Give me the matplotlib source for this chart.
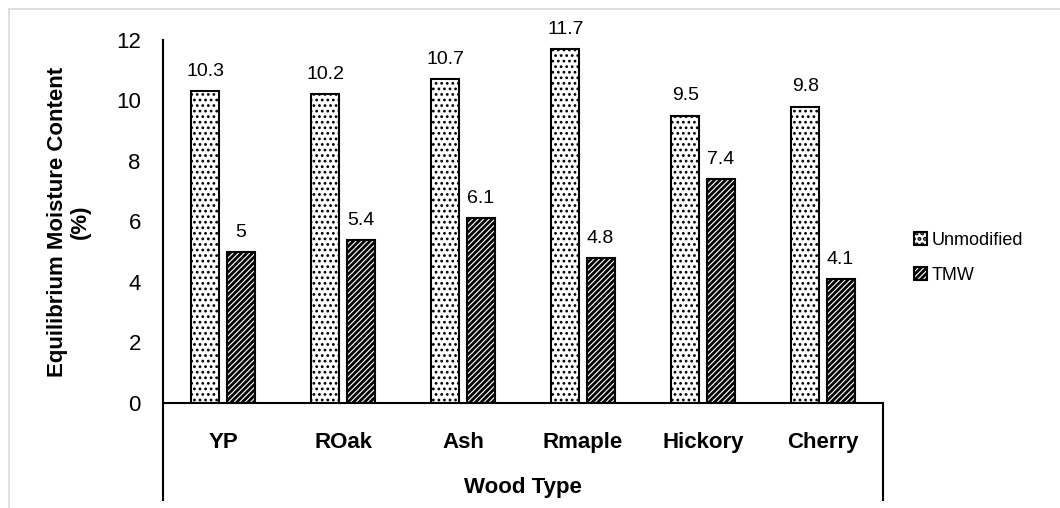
import matplotlib.pyplot as plt
import numpy as np
from matplotlib.lines import Line2D

# data
woods = ['YP', 'ROak', 'Ash', 'Rmaple', 'Hickory', 'Cherry']
unmodified = [10.3, 10.2, 10.7, 11.7, 9.5, 9.8]
tmw = [5, 5.4, 6.1, 4.8, 7.4, 4.1]

plt.rcParams['font.family'] = ['Liberation Sans', 'DejaVu Sans']

fig = plt.figure(figsize=(10.6, 5.08), dpi=100)
ax = fig.add_axes([0.1538, 0.2067, 0.6792, 0.7146])

x = np.arange(len(woods))
w = 0.233
gap = 0.03
# hatch line width is taken when each patch is made
plt.rcParams['hatch.linewidth'] = 1.2
b1 = ax.bar(x - w / 2 - gap, unmodified, w, color='white', edgecolor='black',
            linewidth=1.5, hatch='...', label='Unmodified')
plt.rcParams['hatch.linewidth'] = 2.0
b2 = ax.bar(x + w / 2 + gap, tmw, w, color='white', edgecolor='black',
            linewidth=1.5, hatch='//////', label='TMW')

# value labels above bars
for rects, vals in ((b1, unmodified), (b2, tmw)):
    for r, v in zip(rects, vals):
        ax.annotate(f'{v:g}', (r.get_x() + r.get_width() / 2, v),
                    xytext=(0, 8), textcoords='offset points',
                    ha='center', va='bottom', fontsize=14)

ax.set_xlim(-0.5, len(woods) - 0.5)
ax.set_ylim(0, 12)
ax.set_yticks(range(0, 13, 2))
ax.tick_params(axis='y', length=0, labelsize=16, pad=16)
ax.tick_params(axis='x', length=0, labelsize=16, pad=21)
ax.set_xticks(x)
ax.set_xticklabels(woods, fontweight='bold')
for s in ['top', 'right', 'left']:
    ax.spines[s].set_visible(False)
ax.spines['bottom'].set_linewidth(1.5)

# axis lines running down past the category labels
for xa in (0, 1):
    ax.add_line(Line2D([xa, xa], [-0.267, 1.0 if xa == 0 else 0.0],
                       transform=ax.transAxes, color='black',
                       linewidth=1.5, clip_on=False))

ax.set_xlabel('Wood Type', fontsize=16, fontweight='bold', labelpad=17)
ax.set_ylabel('Equilibrium Moisture Content\n(%)', fontsize=16,
              fontweight='bold', labelpad=18, linespacing=1.15)

ax.legend(loc='center left', bbox_to_anchor=(1.02, 0.40), frameon=False,
          fontsize=13, handlelength=0.75, handleheight=0.75, handletextpad=0.25,
          labelspacing=1.0)

# thin chart-area border on the top and left edges
fig.add_artist(Line2D([9 / 1060, 9 / 1060], [0, 1 - 9 / 508], color='#d9d9d9', linewidth=1.2))
fig.add_artist(Line2D([9 / 1060, 1], [1 - 9 / 508, 1 - 9 / 508], color='#d9d9d9', linewidth=1.2))

fig.savefig('out.png', dpi=100)
